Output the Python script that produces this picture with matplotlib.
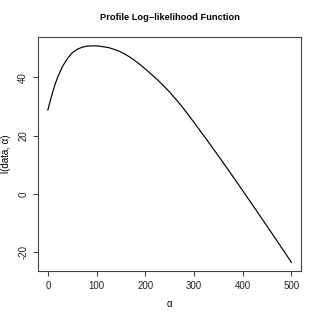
import matplotlib
matplotlib.use("Agg")
import matplotlib.pyplot as plt

# profile log-likelihood
alpha = [0, 5, 10, 15, 20, 30, 40, 50, 60, 70, 80, 90, 100, 110, 125, 140, 150,
         165, 175, 190, 200, 225, 250, 275, 300, 325, 350, 375, 400, 425, 450,
         475, 500]
loglik = [28.8, 32.0, 35.0, 37.6, 40.0, 43.7, 46.4, 48.4, 49.6, 50.3, 50.7,
          50.8, 50.8, 50.6, 50.2, 49.4, 48.7, 47.3, 46.2, 44.3, 42.9, 39.2,
          35.0, 30.1, 24.6, 18.9, 13.1, 7.2, 1.2, -4.9, -11.0, -17.2, -23.4]

x_ticks = [0, 100, 200, 300, 400, 500]
y_ticks = [-20, 0, 20, 40]

plt.rcParams["font.family"] = ["Liberation Sans", "DejaVu Sans"]

fig = plt.figure(figsize=(3.2, 3.2), dpi=100)
ax = fig.add_axes([0.119, 0.153, 0.822, 0.731])
ax.plot(alpha, loglik, color="black", linewidth=0.85)

ax.set_xlim(-20, 520)
ax.set_ylim(-26.4, 53.8)
ax.set_xticks(x_ticks)
ax.set_yticks(y_ticks)
ax.set_yticklabels([str(v) for v in y_ticks], rotation=90, va="center")

for spine in ax.spines.values():
    spine.set_color("#444444")
    spine.set_linewidth(0.8)
ax.tick_params(direction="out", length=3.6, width=0.8, color="#444444",
               labelsize=7, pad=3.5, labelcolor="#222222")

ax.set_xlabel("α", fontsize=7, labelpad=6)
ax.set_ylabel("l(data, α)", fontsize=7, labelpad=5)
ax.set_title("Profile Log−likelihood Function", fontsize=6.7, fontweight="bold", pad=12)

fig.savefig("out.png", dpi=100)
plt.close(fig)
